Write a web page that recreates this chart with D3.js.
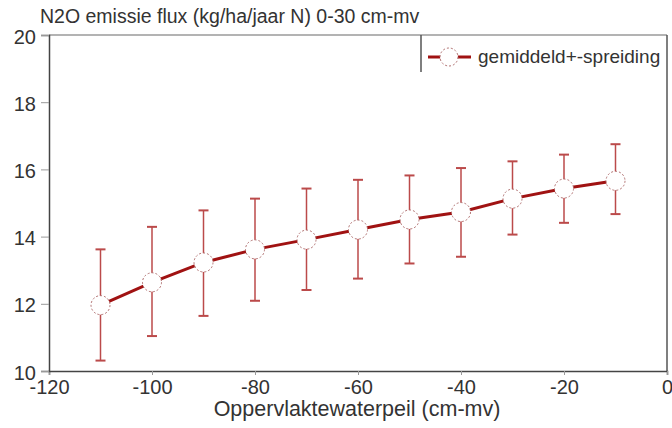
<!DOCTYPE html>
<html>
<head>
<meta charset="utf-8">
<script src="https://cdn.jsdelivr.net/npm/d3@7"></script>
<style>
  body { margin: 0; background: #fff; }
  text { font-family: "Liberation Sans", Arial, sans-serif; fill: #333; }
</style>
</head>
<body>
<svg id="chart" width="672" height="428"></svg>
<script>
// waterpeil (cm-mv), gemiddelde N2O flux en de grenzen van de spreiding
var waterpeil = [-110, -100, -90, -80, -70, -60, -50, -40, -30, -20, -10];
var gemiddeld = [11.96, 12.64, 13.23, 13.62, 13.91, 14.21, 14.51, 14.73, 15.13, 15.43, 15.66];
var spreidingBoven = [13.62, 14.29, 14.78, 15.13, 15.43, 15.69, 15.82, 16.04, 16.24, 16.44, 16.75];
var spreidingOnder = [10.31, 11.04, 11.64, 12.09, 12.41, 12.75, 13.20, 13.40, 14.06, 14.41, 14.67];
var xTicks = [-120, -100, -80, -60, -40, -20, 0];
var yTicks = [10, 12, 14, 16, 18, 20];

var outerWidth = 672;
var outerHeight = 428;
var margin = { left: 49, top: 35, right: 5, bottom: 57 };
var innerWidth  = outerWidth  - margin.left - margin.right;
var innerHeight = outerHeight - margin.top  - margin.bottom;

var lineColor = "#a01212";
var barColor = "#bb4a4a";

var data = waterpeil.map(function (d, i){
  return { x: d, y: gemiddeld[i], hi: spreidingBoven[i], lo: spreidingOnder[i] };
});

var svg = d3.select("#chart");
var g = svg.append("g")
  .attr("transform", "translate(" + margin.left + "," + margin.top + ")");

var xScale = d3.scaleLinear().domain([-120, 0]).range([0, innerWidth]);
var yScale = d3.scaleLinear().domain([10, 20]).range([innerHeight, 0]);

// frame (top + right)
g.append("line").attr("x1", 0).attr("x2", innerWidth).attr("y1", 0).attr("y2", 0)
  .attr("stroke", "#9a9a9a").attr("stroke-width", 1.5);
g.append("line").attr("x1", innerWidth).attr("x2", innerWidth).attr("y1", 0).attr("y2", innerHeight)
  .attr("stroke", "#555").attr("stroke-width", 1.5);

// axes (plain hyphen as minus sign, like the original)
var fmt = function (d){ return String(d); };
var xAxisG = g.append("g")
  .attr("class", "xaxis")
  .attr("transform", "translate(0," + innerHeight + ")")
  .call(d3.axisBottom(xScale).tickValues(xTicks).tickSize(4).tickPadding(5).tickFormat(fmt));
var yAxisG = g.append("g")
  .attr("class", "yaxis")
  .call(d3.axisLeft(yScale).tickValues(yTicks).tickSize(8).tickPadding(5).tickFormat(fmt));

g.selectAll(".domain").attr("stroke", "#444").attr("stroke-width", 1.5);
g.selectAll(".tick line").attr("stroke", "#999");
g.selectAll(".tick text").style("font-size", "20px").attr("fill", "#333").style("font-family", null);
yAxisG.selectAll(".tick text").attr("dy", "0.4em");

// error bars
var bars = g.selectAll(".err").data(data).enter().append("g").attr("class", "err");
bars.append("line")
  .attr("x1", function (d){ return xScale(d.x); })
  .attr("x2", function (d){ return xScale(d.x); })
  .attr("y1", function (d){ return yScale(d.hi); })
  .attr("y2", function (d){ return yScale(d.lo); })
  .attr("stroke", barColor).attr("stroke-width", 1.5);
["hi", "lo"].forEach(function (k){
  bars.append("line")
    .attr("x1", function (d){ return xScale(d.x) - 5; })
    .attr("x2", function (d){ return xScale(d.x) + 5; })
    .attr("y1", function (d){ return yScale(d[k]); })
    .attr("y2", function (d){ return yScale(d[k]); })
    .attr("stroke", barColor).attr("stroke-width", 2);
});

// mean line
var line = d3.line()
  .x(function (d){ return xScale(d.x); })
  .y(function (d){ return yScale(d.y); });
g.append("path").datum(data)
  .attr("d", line)
  .attr("fill", "none")
  .attr("stroke", lineColor)
  .attr("stroke-width", 3);

// markers
g.selectAll(".pt").data(data).enter().append("circle")
  .attr("class", "pt")
  .attr("cx", function (d){ return xScale(d.x); })
  .attr("cy", function (d){ return yScale(d.y); })
  .attr("r", 9.5)
  .attr("fill", "#fff")
  .attr("stroke", "#b07070")
  .attr("stroke-width", 1)
  .attr("stroke-dasharray", "2,2");

// legend
var leg = svg.append("g").attr("transform", "translate(421,57)");
leg.append("line").attr("x1", 0).attr("x2", 0).attr("y1", -22).attr("y2", 15)
  .attr("stroke", "#555").attr("stroke-width", 1.5);
leg.append("line").attr("x1", 7).attr("x2", 50).attr("y1", 0).attr("y2", 0)
  .attr("stroke", lineColor).attr("stroke-width", 3);
leg.append("circle").attr("cx", 28).attr("cy", 0).attr("r", 9)
  .attr("fill", "#fff").attr("stroke", "#b07070").attr("stroke-width", 1).attr("stroke-dasharray", "2,2");
leg.append("text").attr("x", 57).attr("y", 6).style("font-size", "19px").text("gemiddeld+-spreiding");

// title and axis label
svg.append("text").attr("x", 40).attr("y", 23).style("font-size", "19.5px")
  .text("N2O emissie flux (kg/ha/jaar N) 0-30 cm-mv");
svg.append("text").attr("x", 357).attr("y", 416)
  .attr("text-anchor", "middle").style("font-size", "21.5px")
  .text("Oppervlaktewaterpeil (cm-mv)");
</script>
</body>
</html>
